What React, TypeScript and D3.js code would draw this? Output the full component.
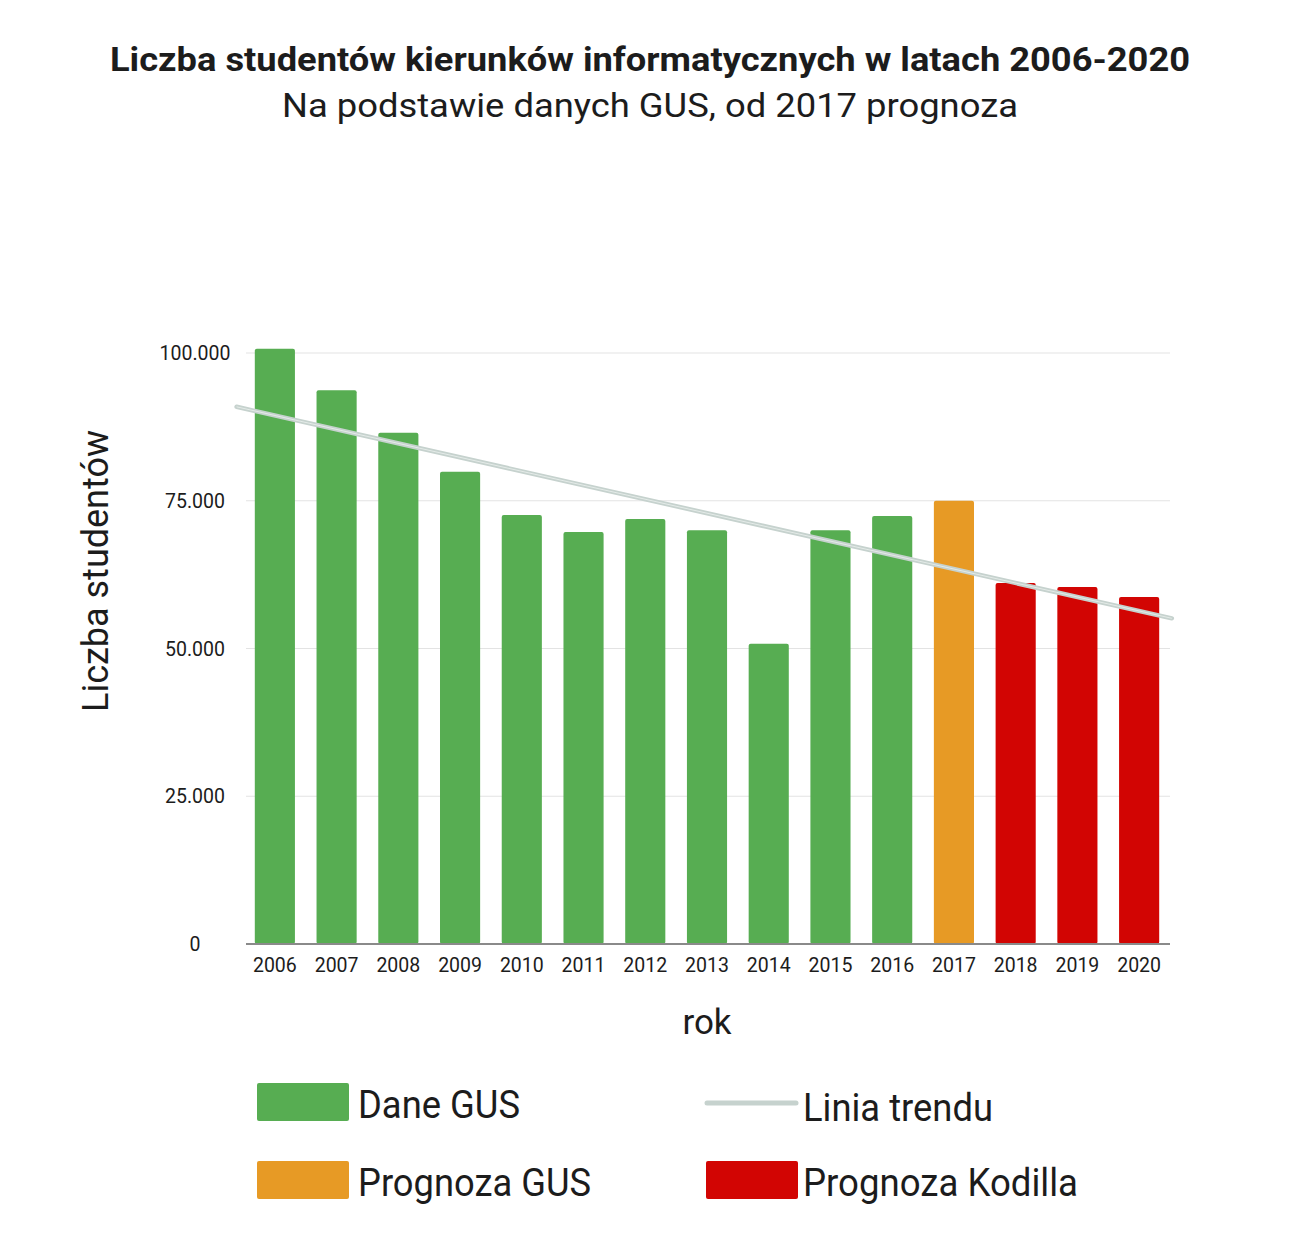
import { useMemo } from 'react';
import * as d3 from 'd3';

const years = ['2006', '2007', '2008', '2009', '2010', '2011', '2012', '2013', '2014', '2015', '2016', '2017', '2018', '2019', '2020'];
const students = [100700, 93700, 86500, 79900, 72600, 69700, 71900, 70000, 50800, 70000, 72400, 75000, 61100, 60400, 58700];
const kinds = ['gus', 'gus', 'gus', 'gus', 'gus', 'gus', 'gus', 'gus', 'gus', 'gus', 'gus', 'prognozaGus', 'kodilla', 'kodilla', 'kodilla'];
const yTicks = [0, 25000, 50000, 75000, 100000];

const colors: Record<string, string> = {
  gus: '#57ad52',
  prognozaGus: '#e79a25',
  kodilla: '#d20503',
};
const trendColor = '#c6d2ce';
const textColor = '#1c1c1c';
const gridColor = '#e3e3e3';
const font = 'Roboto, "Noto Sans", sans-serif';

const width = 1299;
const height = 1241;
const plot = { left: 244, right: 1170, top: 353, bottom: 944 };

const fmt = (v: number) => (v === 0 ? '0' : d3.format(',')(v).replace(/,/g, '.'));

export default function App() {
  const x = useMemo(
    () => d3.scaleBand<string>().domain(years).range([plot.left, plot.right]).paddingInner(0.35).paddingOuter(0.175),
    []
  );
  const y = useMemo(() => d3.scaleLinear().domain([0, 100000]).range([plot.bottom, plot.top]), []);

  // linia trendu: regresja liniowa po indeksach lat
  const trend = useMemo(() => {
    const n = students.length;
    const mx = (n - 1) / 2;
    const my = d3.mean(students)!;
    let sxy = 0;
    let sxx = 0;
    students.forEach((v, i) => {
      sxy += (i - mx) * (v - my);
      sxx += (i - mx) * (i - mx);
    });
    const slope = sxy / sxx;
    const step = x.step();
    const cx = (i: number) => x(years[0])! + x.bandwidth() / 2 + i * step;
    const pts: [number, number][] = [-0.62, n - 1 + 0.53].map((i) => [cx(i), y(my + slope * (i - mx))]);
    return d3.line()(pts)!;
  }, [x, y]);

  const legendText = { fontFamily: font, fontSize: 38, fill: textColor };

  return (
    <svg width={width} height={height} style={{ display: 'block', margin: '-8px' }} viewBox={`0 0 ${width} ${height}`}>
      <rect width={width} height={height} fill="#fff" />
      <text x={650} y={71} textAnchor="middle" fontFamily={font} fontWeight={700} fontSize={33} fill={textColor} textLength={1080} lengthAdjust="spacingAndGlyphs">
        Liczba studentów kierunków informatycznych w latach 2006-2020
      </text>
      <text x={650} y={117} textAnchor="middle" fontFamily={font} fontSize={33} fill={textColor} textLength={736} lengthAdjust="spacingAndGlyphs">
        Na podstawie danych GUS, od 2017 prognoza
      </text>

      {/* siatka i etykiety osi Y */}
      {yTicks.map((t) => (
        <g key={t}>
          {t > 0 && <line x1={246} x2={plot.right} y1={y(t)} y2={y(t)} stroke={gridColor} strokeWidth={1} />}
          <text x={195} y={y(t) + 7} textAnchor="middle" fontFamily={font} fontSize={19.5} fill={textColor}>
            {fmt(t)}
          </text>
        </g>
      ))}

      {/* słupki */}
      {years.map((yr, i) => (
        <rect
          key={yr}
          x={x(yr)}
          y={y(students[i])}
          width={x.bandwidth()}
          height={y(0) - y(students[i])}
          fill={colors[kinds[i]]}
          rx={2}
        />
      ))}

      <line x1={246} x2={plot.right} y1={plot.bottom} y2={plot.bottom} stroke="#8a8a8a" strokeWidth={2} />

      {years.map((yr) => (
        <text key={yr} x={x(yr)! + x.bandwidth() / 2} y={972} textAnchor="middle" fontFamily={font} fontSize={19.5} fill={textColor}>
          {yr}
        </text>
      ))}

      <path d={trend} stroke={trendColor} strokeWidth={4.5} fill="none" strokeLinecap="round" />
      <path d={trend} stroke="#e4ebe8" strokeWidth={1} fill="none" />

      <text x={707} y={1034} textAnchor="middle" fontFamily={font} fontSize={35} fill={textColor}>
        rok
      </text>
      <text transform="translate(108,571) rotate(-90)" textAnchor="middle" fontFamily={font} fontSize={36} fill={textColor} textLength={282} lengthAdjust="spacingAndGlyphs">
        Liczba studentów
      </text>

      {/* legenda */}
      <rect x={257} y={1083} width={92} height={38} rx={2} fill={colors.gus} />
      <text x={358} y={1118} {...legendText} textLength={162} lengthAdjust="spacingAndGlyphs">Dane GUS</text>
      <rect x={257} y={1161} width={92} height={38} rx={2} fill={colors.prognozaGus} />
      <text x={358} y={1196} {...legendText} textLength={233} lengthAdjust="spacingAndGlyphs">Prognoza GUS</text>
      <line x1={707} x2={796} y1={1103} y2={1103} stroke={trendColor} strokeWidth={5} strokeLinecap="round" />
      <text x={803} y={1121} {...legendText} textLength={190} lengthAdjust="spacingAndGlyphs">Linia trendu</text>
      <rect x={706} y={1161} width={92} height={38} rx={2} fill={colors.kodilla} />
      <text x={803} y={1196} {...legendText} textLength={275} lengthAdjust="spacingAndGlyphs">Prognoza Kodilla</text>
    </svg>
  );
}
